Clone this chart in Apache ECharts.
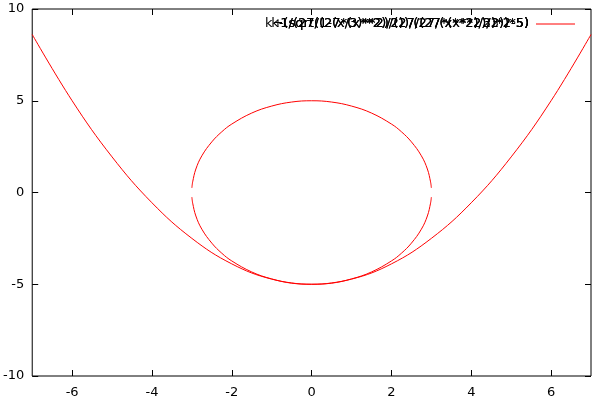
<!DOCTYPE html>
<html><head><meta charset="utf-8">
<script src="https://cdn.jsdelivr.net/npm/echarts@6/dist/echarts.min.js"></script>
<style>html,body{margin:0;background:#fff}#c{width:597px;height:403px}</style>
</head><body><div id="c"></div>
<script>
// values
var parabolaX = [-7, -6, -5, -4, -3, -2, -1, 0, 1, 2, 3, 4, 5, 6, 7];
var parabolaY = [8.61, 5.0, 1.94, -0.56, -2.5, -3.89, -4.72, -5.0, -4.72, -3.89, -2.5, -0.56, 1.94, 5.0, 8.61];
var ellipseX = [-3, -2.98, -2.9, -2.75, -2.5, -2.25, -2, -1.5, -1, -0.5, 0, 0.5, 1, 1.5, 2, 2.25, 2.5, 2.75, 2.9, 2.98, 3];
var ellipseTop = [0.25, 0.58, 1.28, 2.0, 2.76, 3.31, 3.73, 4.33, 4.71, 4.93, 5.0, 4.93, 4.71, 4.33, 3.73, 3.31, 2.76, 2.0, 1.28, 0.58, 0.25];
var ellipseBottom = ellipseTop.map(function (v) { return -v; });
var xTicks = [-6, -4, -2, 0, 2, 4, 6];
var yTicks = [-10, -5, 0, 5, 10];
var legendTitles = [
  'k+(sqrt(1-(x/3)**2)/(27/(27*(x**2)/3))*5)',
  'k-(sqrt(1-(x/3)**2)/(27/(27*(x**2)/2))*5)',
  '1/(27/(27*(x**2)/2))/(27/(x**2)/3)*2-5)',
  '1/(27/(27*(x**2)/2))/(27/(x**2)/2)*2-5)'
];

function pairs(xs, ys) {
  return xs.map(function (x, i) { return [x, ys[i]]; });
}

var chart = echarts.init(document.getElementById('c'));
var red = '#ff0000';
var line = function (d) {
  return { type: 'line', data: d, smooth: 0.4, showSymbol: false, lineStyle: { color: red, width: 1 }, silent: true };
};
var axText = { color: '#000', fontSize: 13, fontFamily: 'DejaVu Sans' };
var tick = function (vals) {
  return { inside: true, length: 6, customValues: vals, lineStyle: { color: '#000' } };
};
var noLine = { show: false, onZero: false };

chart.setOption({
  animation: false,
  grid: { left: 30, right: 6, top: 9, bottom: 27, show: true, borderColor: '#000', borderWidth: 1 },
  xAxis: [
    { type: 'value', min: -7, max: 7, axisLine: noLine, splitLine: { show: false },
      axisTick: tick(xTicks), axisLabel: Object.assign({ margin: 10, customValues: xTicks }, axText) },
    { type: 'value', position: 'top', min: -7, max: 7, axisLine: noLine, splitLine: { show: false },
      axisTick: tick(xTicks), axisLabel: { show: false } }
  ],
  yAxis: [
    { type: 'value', min: -10, max: 10, axisLine: noLine, splitLine: { show: false },
      axisTick: tick(yTicks), axisLabel: Object.assign({ margin: 8, customValues: yTicks }, axText) },
    { type: 'value', position: 'right', min: -10, max: 10, axisLine: noLine, splitLine: { show: false },
      axisTick: tick(yTicks), axisLabel: { show: false } }
  ],
  series: [
    line(pairs(parabolaX, parabolaY)),
    line(pairs(ellipseX, ellipseTop)),
    line(pairs(ellipseX, ellipseBottom))
  ],
  graphic: legendTitles.map(function (t, i) {
    return { type: 'text', right: 68, top: 17, style: { text: t, fill: '#000', font: '13px "DejaVu Sans"', textAlign: 'right' } };
  }).concat([{ type: 'line', shape: { x1: 536, y1: 24, x2: 575, y2: 24 }, style: { stroke: red, lineWidth: 1 } }])
});
</script></body></html>
